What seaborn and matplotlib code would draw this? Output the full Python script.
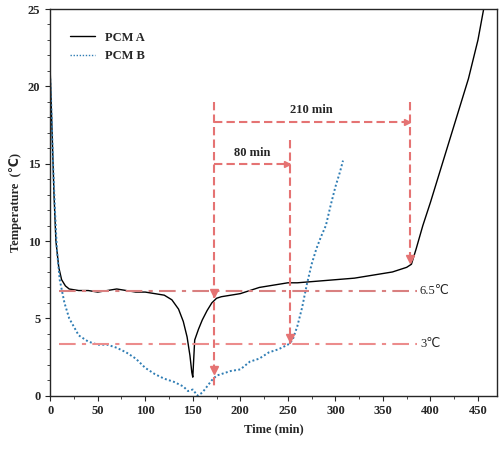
import matplotlib
matplotlib.use("Agg")
import matplotlib.pyplot as plt
import seaborn as sns
import pandas as pd

# PCM A temperature curve
time_a = [0, 2, 4, 6, 9, 12, 16, 20, 30, 40, 50, 60, 70, 80, 90, 100, 110, 120, 128, 135, 140, 144, 147, 149, 150, 152, 156, 160, 165, 170, 175, 180, 190, 200, 210, 220, 230, 240, 250, 260, 280, 300, 320, 340, 360, 375, 380, 385, 392, 400, 410, 420, 430, 440, 450, 456]
temp_a = [21, 17, 13, 10, 8.3, 7.5, 7.1, 6.9, 6.8, 6.8, 6.7, 6.8, 6.9, 6.8, 6.7, 6.7, 6.6, 6.5, 6.2, 5.6, 4.8, 3.8, 2.6, 1.5, 1.2, 3.6, 4.3, 4.9, 5.5, 6.0, 6.3, 6.4, 6.5, 6.6, 6.8, 7.0, 7.1, 7.2, 7.3, 7.3, 7.4, 7.5, 7.6, 7.8, 8.0, 8.3, 8.5, 9.5, 11, 12.5, 14.5, 16.5, 18.5, 20.5, 23, 25]

# PCM B temperature curve
time_b = [0, 1, 3, 5, 7, 10, 15, 20, 30, 40, 50, 60, 70, 80, 90, 100, 110, 120, 130, 140, 145, 150, 155, 160, 165, 170, 175, 180, 190, 200, 210, 220, 230, 240, 250, 255, 260, 265, 270, 275, 280, 285, 290, 295, 300, 305, 308]
temp_b = [20.5, 19, 15, 12, 9.5, 7.5, 6, 5, 3.9, 3.5, 3.3, 3.3, 3.1, 2.8, 2.4, 1.8, 1.4, 1.1, 0.9, 0.6, 0.3, 0.4, 0.0, 0.2, 0.6, 1.0, 1.3, 1.4, 1.6, 1.7, 2.2, 2.4, 2.8, 3.0, 3.3, 3.6, 4.5, 5.7, 7.2, 8.5, 9.5, 10.3, 11.0, 12.3, 13.5, 14.5, 15.2]

x_ticks = [0, 50, 100, 150, 200, 250, 300, 350, 400, 450]
y_ticks = [0, 5, 10, 15, 20, 25]
level_high, level_low = 6.8, 3.35
t_start, t_b, t_a = 172, 252, 378

df = pd.concat([
    pd.DataFrame({"time": time_a, "temp": temp_a, "pcm": "PCM A"}),
    pd.DataFrame({"time": time_b, "temp": temp_b, "pcm": "PCM B"}),
])

sns.set_style("ticks")
plt.rcParams["font.family"] = ["Liberation Serif", "DejaVu Sans"]
plt.rcParams["font.weight"] = "bold"

fig, ax = plt.subplots(figsize=(5.02, 4.5), dpi=100)
sns.lineplot(data=df, x="time", y="temp", hue="pcm", style="pcm",
             palette={"PCM A": "black", "PCM B": "#2f7db4"},
             dashes={"PCM A": "", "PCM B": (1, 1.2)}, lw=1, ax=ax)
ax.lines[1].set_linewidth(1.4)

red = "#e57373"
ax.axhline(level_high, xmin=0.02, xmax=0.82, color="#d98080", ls="-.", dashes=(8, 3, 2, 3), lw=1.5)
ax.axhline(level_low, xmin=0.02, xmax=0.82, color="#ec8c8c", ls="-.", dashes=(8, 3, 2, 3), lw=1.5)
ax.text(389, level_high, "6.5℃", va="center", fontsize=9, weight="normal")
ax.text(389, level_low, "3℃", va="center", fontsize=9, weight="normal")

vdash = dict(color=red, ls="--", lw=1.5, dashes=(4, 2))
ax.plot([t_start, t_start], [19, 0.6], **vdash)
ax.plot([t_b, t_b], [16.5, level_low], **vdash)
ax.plot([t_a, t_a], [19, 8.5], **vdash)
ax.plot([t_start, t_a], [17.7, 17.7], **vdash)
ax.plot([t_start, t_b], [15, 15], **vdash)
for x, y in [(t_start, 6.3), (t_start, 1.3), (t_b, level_low), (t_a, 8.5)]:
    ax.plot(x, y + 0.35, marker="v", color=red, ms=6)
ax.plot(t_b - 3, 15, marker=">", color=red, ms=5)
ax.plot(t_a - 3, 17.7, marker=">", color=red, ms=5)
ax.text((t_start + t_a) / 2, 18.3, "210 min", ha="center", fontsize=9)
ax.text((t_start + t_b) / 2, 15.5, "80 min", ha="center", fontsize=9)

ax.set_xlim(0, 470)
ax.set_ylim(0, 25)
ax.set_xticks(x_ticks)
ax.set_yticks(y_ticks)
ax.set_xticks(range(25, 470, 50), minor=True)
ax.set_yticks([i for i in range(26) if i % 5], minor=True)
ax.tick_params(labelsize=9, direction="out")
for s in ax.spines.values():
    s.set_visible(True)
    s.set_linewidth(1)
ax.set_xlabel("Time (min)", fontsize=9, weight="bold")
ax.set_ylabel("Temperature  (℃)", fontsize=9, weight="bold")
ax.legend(title=None, frameon=False, fontsize=9, loc="upper left", bbox_to_anchor=(0.02, 0.97))

plt.tight_layout()
plt.subplots_adjust(left=0.1, right=0.99, top=0.98)
plt.savefig("out.png", dpi=100)
plt.close()
